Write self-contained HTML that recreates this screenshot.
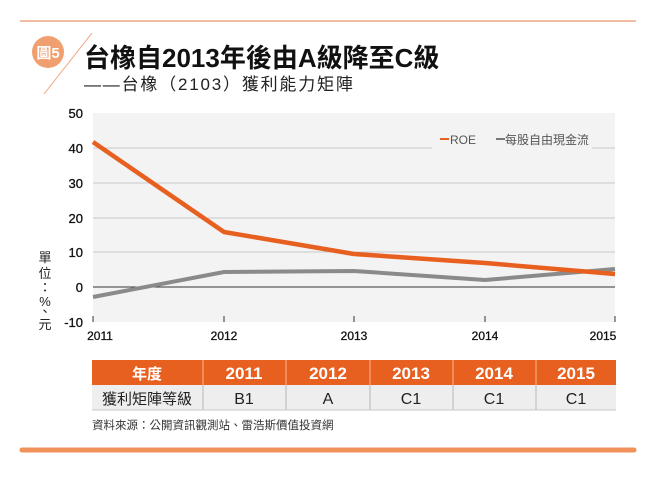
<!DOCTYPE html>
<html><head><meta charset="utf-8"><style>
body{margin:0;background:#fff;width:660px;height:473px;overflow:hidden;font-family:"Liberation Sans","Noto Sans CJK TC",sans-serif;}
</style></head><body>
<svg width="660" height="473" xmlns="http://www.w3.org/2000/svg" font-family="Liberation Sans, Noto Sans CJK TC, sans-serif">
<line x1="20" y1="21" x2="636" y2="21" stroke="#e07a45" stroke-width="1"/>
<line x1="44" y1="94" x2="92" y2="33" stroke="#eea27a" stroke-width="1"/>
<circle cx="48" cy="52" r="16" fill="#f0a070"/>
<text x="48" y="58" text-anchor="middle" font-size="15" font-weight="bold" fill="#fff">圖5</text>
<text x="84" y="67" font-size="26" font-weight="bold" fill="#111">台橡自2013年後由A級降至C級</text>
<text x="84" y="90" font-size="17" fill="#222" letter-spacing="1.8">——台橡（2103）獲利能力矩陣</text>
<rect x="93" y="113" width="522" height="209" fill="#f3f3f3"/>
<g stroke="#c8c8c8" stroke-width="1">
<line x1="93" y1="148" x2="615" y2="148"/><line x1="93" y1="183" x2="615" y2="183"/>
<line x1="93" y1="218" x2="615" y2="218"/><line x1="93" y1="252" x2="615" y2="252"/>
</g>
<rect x="432" y="126" width="160" height="24" fill="#f3f3f3"/>
<line x1="93" y1="287" x2="615" y2="287" stroke="#333" stroke-width="1"/>
<g stroke="#333" stroke-width="1"><line x1="93" y1="316" x2="93" y2="322"/><line x1="224" y1="316" x2="224" y2="322"/><line x1="354" y1="316" x2="354" y2="322"/><line x1="485" y1="316" x2="485" y2="322"/><line x1="615" y1="316" x2="615" y2="322"/></g>
<g font-size="13" fill="#111" text-anchor="end" stroke="#111" stroke-width="0.3">
<text x="83" y="118">50</text><text x="83" y="153">40</text><text x="83" y="188">30</text><text x="83" y="223">20</text><text x="83" y="257">10</text><text x="83" y="292">0</text><text x="83" y="327">-10</text>
</g>
<g font-size="12" fill="#111" text-anchor="middle" stroke="#111" stroke-width="0.3">
<text x="100" y="340">2011</text><text x="224" y="340">2012</text><text x="354" y="340">2013</text><text x="485" y="340">2014</text><text x="603" y="340">2015</text>
</g>
<g font-size="13" fill="#222" text-anchor="middle">
<text x="45" y="262">單</text><text x="45" y="278">位</text><text x="45" y="292">：</text><text x="45" y="306">%</text><text x="45" y="316">、</text><text x="45" y="329">元</text>
</g>
<polyline points="93,297 224,272 354,271 485,280 615,269" fill="none" stroke="#8a8a8a" stroke-width="4" stroke-linejoin="round"/>
<polyline points="93,142 224,232 354,254 485,263 615,274" fill="none" stroke="#e8601f" stroke-width="4.5" stroke-linejoin="round"/>
<line x1="440" y1="139" x2="449" y2="139" stroke="#e8601f" stroke-width="2"/>
<text x="450" y="144" font-size="12" fill="#555">ROE</text>
<line x1="496" y1="139" x2="505" y2="139" stroke="#777" stroke-width="2"/>
<text x="505" y="144" font-size="12" fill="#555">每股自由現金流</text>
<rect x="92" y="360" width="524" height="25" fill="#e8601f"/>
<rect x="92" y="385" width="524" height="25" fill="#eeeeee"/>
<line x1="92" y1="410" x2="616" y2="410" stroke="#c8c8c8"/>
<g stroke="#f39a6c" stroke-width="1.5"><line x1="203" y1="360" x2="203" y2="385"/><line x1="286" y1="360" x2="286" y2="385"/><line x1="370" y1="360" x2="370" y2="385"/><line x1="453" y1="360" x2="453" y2="385"/><line x1="536" y1="360" x2="536" y2="385"/></g>
<g stroke="#c8c8c8" stroke-width="1.5"><line x1="203" y1="385" x2="203" y2="410"/><line x1="286" y1="385" x2="286" y2="410"/><line x1="370" y1="385" x2="370" y2="410"/><line x1="453" y1="385" x2="453" y2="410"/><line x1="536" y1="385" x2="536" y2="410"/></g>
<g font-size="17" font-weight="bold" fill="#fff" text-anchor="middle">
<text x="147" y="379" font-size="15">年度</text><text x="244" y="379">2011</text><text x="328" y="379">2012</text><text x="411" y="379">2013</text><text x="494" y="379">2014</text><text x="576" y="379">2015</text>
</g>
<g font-size="16" fill="#222" text-anchor="middle">
<text x="147" y="404" font-size="15">獲利矩陣等級</text><text x="244" y="404">B1</text><text x="328" y="404">A</text><text x="411" y="404">C1</text><text x="494" y="404">C1</text><text x="576" y="404">C1</text>
</g>
<text x="92" y="429" font-size="11.5" fill="#333">資料來源：公開資訊觀測站、雷浩斯價值投資網</text>
<line x1="22" y1="450" x2="634" y2="450" stroke="#f0925a" stroke-width="5" stroke-linecap="round"/>
</svg>
</body></html>
